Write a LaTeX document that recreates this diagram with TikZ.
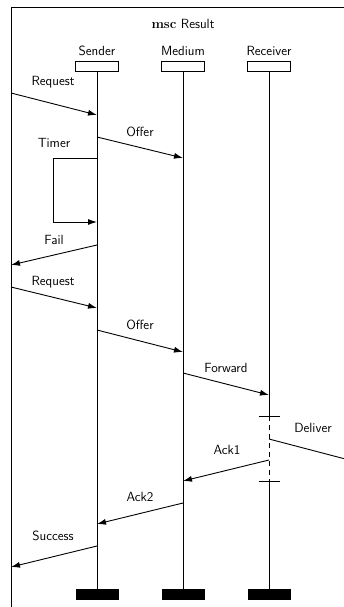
\documentclass[tikz,border=0pt]{standalone}
\usetikzlibrary{arrows.meta}
\begin{document}
\begin{tikzpicture}[x=1pt,y=-1pt,
  font=\sffamily\fontsize{13.3}{15}\selectfont,
  ln/.style={line width=0.9pt},
  msg/.style={ln,-{Latex[length=9pt,width=6pt]}},
  lbl/.style={inner sep=0pt},
  head/.style={draw,ln,minimum width=43pt,minimum height=10pt,inner sep=0pt},
  foot/.style={fill=black,minimum width=43pt,minimum height=11pt,inner sep=0pt}]
\useasboundingbox (0,0) rectangle (344,607);
\clip (0,0) rectangle (344,607);
% frame
\draw[ln] (11,7) rectangle (420,660);
\node[lbl] (title) at (183,24) {\textrm{\bfseries msc} Result};
% instances
\node[lbl] (sl) at (97,51) {Sender};
\node[lbl] (ml) at (183,51) {Medium};
\node[lbl] (rl) at (269,51) {Receiver};
\node[head] (sh) at (97,66) {};
\node[head] (mh) at (183,66) {};
\node[head] (rh) at (269,66) {};
\node[foot] (sf) at (97,594.5) {};
\node[foot] (mf) at (183,594.5) {};
\node[foot] (rf) at (269,594.5) {};
\draw[ln] (sh.south) -- (sf.north);
\draw[ln] (mh.south) -- (mf.north);
\coordinate (s1) at (269,416);
\coordinate (s2) at (269,481);
\draw[ln] (rh.south) -- (s1);
\draw[ln,dash pattern=on 5pt off 4pt] (s1) -- (s2);
\draw[ln] (s2) -- (rf.north);
\draw[ln] (258.5,416) -- (279.5,416);
\draw[ln] (258.5,481) -- (279.5,481);
% messages
\coordinate (a1) at (11,93);   \coordinate (a2) at (97,115);
\coordinate (b1) at (97,137);  \coordinate (b2) at (183,158);
\coordinate (t1) at (97,158);  \coordinate (t2) at (97,222);
\coordinate (c1) at (97,245);  \coordinate (c2) at (11,265);
\coordinate (d1) at (11,287);  \coordinate (d2) at (97,308);
\coordinate (e1) at (97,330);  \coordinate (e2) at (183,352);
\coordinate (f1) at (183,373); \coordinate (f2) at (269,395);
\coordinate (g1) at (269,439); \coordinate (g2) at (372,466);
\coordinate (h1) at (269,460); \coordinate (h2) at (183,481);
\coordinate (i1) at (183,503); \coordinate (i2) at (97,524);
\coordinate (j1) at (97,546);  \coordinate (j2) at (11,567);
\draw[msg] (a1) -- (a2);
\draw[msg] (b1) -- (b2);
\draw[msg] (t1) -- ++(-44,0) |- (t2);
\draw[msg] (c1) -- (c2);
\draw[msg] (d1) -- (d2);
\draw[msg] (e1) -- (e2);
\draw[msg] (f1) -- (f2);
\draw[msg] (g1) -- (g2);
\draw[msg] (h1) -- (h2);
\draw[msg] (i1) -- (i2);
\draw[msg] (j1) -- (j2);
% labels
\node[lbl] at (53,82) {Request};
\node[lbl] at (140,132) {Offer};
\node[lbl] at (54,143) {Timer};
\node[lbl] at (54,240) {Fail};
\node[lbl] at (53,282) {Request};
\node[lbl] at (140,325) {Offer};
\node[lbl] at (226,368) {Forward};
\node[lbl] at (313,428) {Deliver};
\node[lbl] at (227,450) {Ack1};
\node[lbl] at (140,497) {Ack2};
\node[lbl] at (53,536) {Success};
\end{tikzpicture}
\end{document}
